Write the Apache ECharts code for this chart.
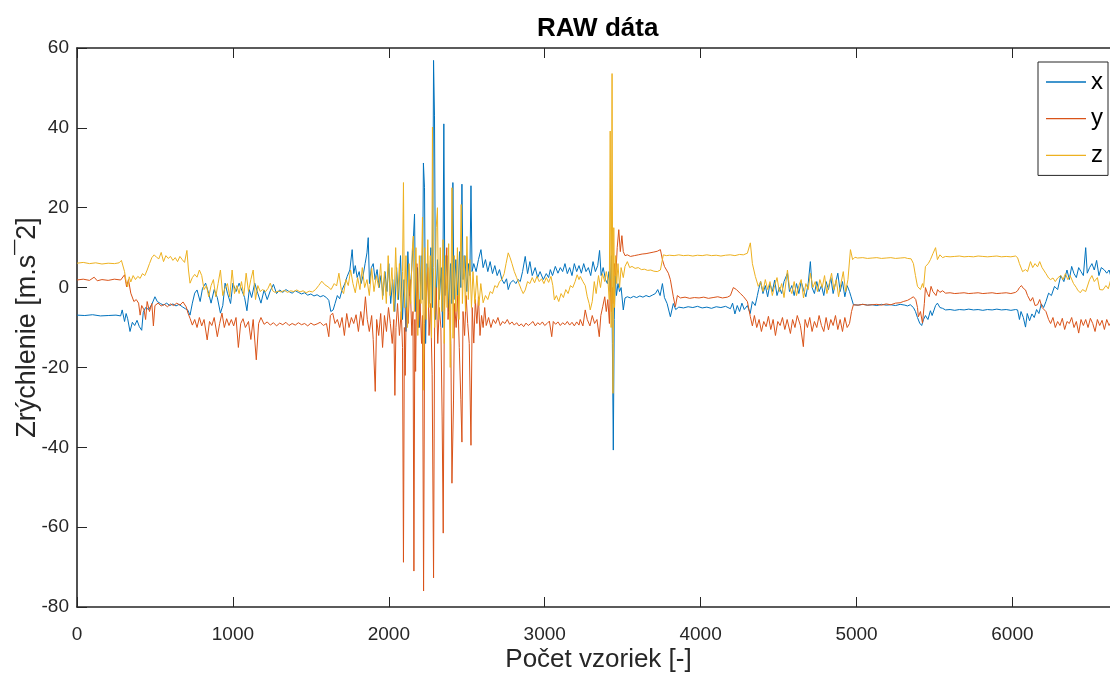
<!DOCTYPE html>
<html><head><meta charset="utf-8">
<script src="https://cdn.jsdelivr.net/npm/echarts@6/dist/echarts.min.js"></script>
<style>html,body{margin:0;padding:0;background:#fff}#c{width:1110px;height:675px}</style>
</head><body><div id="c"></div>
<script>
const TITLE = 'RAW dáta';
const X_NAME = 'Počet vzoriek [-]';
const Y_NAME = 'Zrýchlenie [m.s¯2]';
const SERIES_NAMES = ['x', 'y', 'z'];
const SERIES_COLORS = ['#0072BD', '#D95319', '#EDB120'];
const X_MIN = 0, X_MAX = 6690, X_STEP = 1000;
const Y_MIN = -80, Y_MAX = 60, Y_STEP = 20;

// [sample index, acceleration]
const accX = [[0,-6.9],[50,-7.0],[100,-6.8],[150,-7.1],[200,-7.0],[250,-6.9],[280,-7.1],[290,-5.6],[305,-8.5],[315,-6.5],[325,-7.8],[340,-11],[355,-8.7],[370,-9.5],[385,-8.2],[400,-9.8],[415,-10.7],[425,-6.2],[440,-5],[460,-5.5],[480,-4.2],[500,-2.3],[515,-3.5],[535,-4],[555,-4.4],[575,-3.9],[595,-4.5],[615,-4.1],[635,-4.6],[655,-4.2],[675,-4.8],[695,-5.3],[710,-5.6],[725,-6.9],[740,-3.9],[755,-1.4],[770,-0.6],[790,-3.5],[805,-0.2],[825,1.1],[845,-1.5],[860,-3.9],[880,-0.5],[900,-2.5],[920,-6.4],[935,-4.5],[950,1.1],[965,-1.4],[985,-4],[1000,1.1],[1020,-1],[1040,1.1],[1060,-1],[1075,-2.5],[1090,-5.8],[1105,-0.5],[1120,-2.5],[1140,1.1],[1160,-1.5],[1180,-3.9],[1200,-0.6],[1220,-3],[1240,-0.8],[1260,0.8],[1280,-1.5],[1300,-0.6],[1320,-1.2],[1340,-0.5],[1360,-1],[1380,-1.4],[1400,-0.8],[1420,-1.2],[1440,-1.6],[1460,-1.3],[1480,-1.9],[1500,-1.6],[1520,-2.1],[1540,-1.8],[1560,-2.3],[1580,-2],[1600,-2.5],[1615,-3.2],[1628,-6],[1643,-5.6],[1655,-4],[1670,-2],[1685,-2.8],[1700,-0.6],[1718,1],[1733,2.8],[1750,4.4],[1765,9.5],[1775,3.5],[1785,5.5],[1797,2.5],[1810,4],[1822,1],[1835,3],[1848,6],[1860,8.7],[1868,12.5],[1876,1],[1888,5],[1900,6],[1912,2],[1925,4.5],[1938,0],[1950,3],[1962,-2],[1975,4],[1988,-1],[2000,6],[2012,-4],[2025,2],[2038,-6],[2050,5],[2062,-3],[2075,8],[2088,-8],[2098,2],[2110,-11],[2122,9],[2134,-2],[2146,4],[2158,12.7],[2165,18.4],[2172,-6],[2184,5],[2196,-10],[2208,8],[2216,-3],[2222,31.2],[2229,25],[2236,-14],[2246,6],[2258,-4],[2270,10],[2280,-5],[2287,56.9],[2293,43],[2300,-8],[2312,7],[2324,-3],[2336,5],[2345,-10],[2353,41],[2360,-2],[2372,8],[2384,-6],[2396,6],[2404,-4],[2411,26.3],[2418,-3],[2430,7],[2442,-2],[2454,9],[2462,0],[2469,25.9],[2476,2],[2488,8],[2500,-1],[2512,6],[2520,3],[2527,25.5],[2534,4],[2545,6],[2560,4],[2575,7],[2591,9.5],[2605,5],[2620,7],[2635,4],[2650,6.5],[2665,3.5],[2680,5.5],[2695,3],[2710,4.5],[2725,2],[2740,1],[2755,2.2],[2766,-0.5],[2780,1.2],[2798,1.8],[2815,1],[2830,2],[2843,1.5],[2858,4],[2875,7.8],[2890,3.5],[2905,6.5],[2920,3],[2939,5],[2955,2.5],[2970,4],[2991,2],[3010,3.5],[3025,2.5],[3036,4.5],[3050,3],[3068,5.3],[3085,3.6],[3100,5],[3115,4],[3130,6],[3145,3.5],[3160,5],[3175,3],[3190,6],[3205,4],[3220,5.5],[3235,3.6],[3250,6],[3265,4],[3280,5],[3295,3],[3310,6.5],[3325,4],[3340,5.5],[3352,9.3],[3362,3],[3375,5],[3390,2],[3402,1],[3412,4],[3420,-1],[3428,8],[3434,-14],[3440,-40.7],[3446,-8],[3452,3],[3460,-2],[3470,1],[3480,-1],[3490,0],[3504,-5.6],[3515,-2.6],[3530,-2.3],[3550,-2.6],[3570,-2.2],[3590,-2.5],[3610,-2.1],[3630,-2.4],[3650,-2],[3670,-2.3],[3690,-1.9],[3710,-1.5],[3725,-0.5],[3740,-2],[3755,1],[3768,-2.5],[3785,-4],[3806,-7.3],[3825,-4],[3840,-5.5],[3860,-4.9],[3890,-5.1],[3920,-4.8],[3950,-5],[3980,-4.7],[4010,-5.1],[4040,-4.9],[4070,-5.2],[4100,-4.8],[4130,-5],[4160,-4.7],[4191,-5.3],[4205,-3.9],[4220,-6.6],[4235,-4.5],[4250,-6],[4265,-3.9],[4280,-5.5],[4300,-4.5],[4318,-6.5],[4332,-3.5],[4350,-4.5],[4364,-2],[4372,-0.5],[4385,1.5],[4400,-1.5],[4415,0.5],[4430,-2.3],[4445,1],[4460,-1],[4475,1.9],[4490,-2],[4505,0],[4520,-1.5],[4535,1.5],[4557,3.6],[4570,-1],[4585,0.5],[4600,-2],[4615,1],[4630,-1.5],[4645,1.5],[4660,-0.5],[4675,-2.3],[4690,1],[4704,6.5],[4715,0],[4730,-1.5],[4745,1.5],[4760,-1],[4775,0.5],[4790,-2],[4805,1.5],[4820,-0.5],[4835,2.5],[4850,-1.5],[4865,1],[4880,3.6],[4895,-1],[4910,1.5],[4925,-2.3],[4940,0.5],[4955,-1],[4965,-2.3],[4980,-4.3],[5010,-4.4],[5040,-4.2],[5070,-4.4],[5100,-4.3],[5130,-4.5],[5160,-4.2],[5190,-4.4],[5220,-4.3],[5250,-4.5],[5280,-4.2],[5310,-4.4],[5327,-4.6],[5345,-4.3],[5365,-5],[5378,-6],[5391,-7.5],[5405,-8.9],[5418,-9.5],[5430,-8],[5442,-7],[5458,-8],[5474,-5.8],[5485,-7],[5494,-6.5],[5507,-4.5],[5519,-3.9],[5535,-5],[5552,-5.2],[5571,-5.6],[5600,-5.5],[5630,-5.7],[5660,-5.5],[5690,-5.6],[5720,-5.4],[5750,-5.6],[5780,-5.5],[5810,-5.7],[5840,-5.5],[5870,-5.6],[5900,-5.4],[5930,-5.6],[5960,-5.5],[5990,-5.7],[6020,-5.5],[6033,-5.6],[6045,-8],[6055,-6],[6070,-7.5],[6084,-9.9],[6095,-6.5],[6110,-8.3],[6125,-6.6],[6140,-7.5],[6155,-5.5],[6170,-6.5],[6185,-4.1],[6200,-5],[6215,-3.5],[6232,-1.4],[6250,-2],[6270,0.3],[6290,-0.5],[6310,3],[6330,1.5],[6350,4.4],[6365,2],[6380,5.3],[6395,3.5],[6410,2.5],[6425,5],[6440,4],[6455,3],[6470,10],[6480,3.6],[6495,5],[6510,6],[6525,4.4],[6540,6.8],[6555,3],[6570,5],[6590,4.4],[6605,3.6],[6620,4.4],[6630,3],[6660,5],[6690,4]];

const accY = [[0,1.9],[40,2.1],[80,1.8],[110,2.6],[130,1.7],[160,2.0],[200,1.8],[240,2.1],[280,1.9],[290,2.3],[305,3.2],[318,0.2],[330,2.0],[345,-1.4],[365,-3.5],[380,-3],[395,-3.9],[405,-6.9],[415,-4.5],[430,-5.6],[440,-8],[450,-3.5],[465,-6],[480,-4],[490,-9.6],[500,-4.5],[520,-3.9],[540,-4.6],[560,-4.2],[580,-4.8],[600,-4.1],[620,-4.5],[640,-3.9],[660,-4.4],[680,-3.6],[700,-4.8],[712,-6.4],[725,-7.7],[740,-9.4],[755,-8],[770,-10],[785,-7.5],[800,-9.6],[815,-8],[835,-13.1],[850,-8.5],[865,-9.5],[880,-7.5],[900,-12.3],[915,-9],[930,-6.4],[945,-10],[960,-7.8],[975,-9.5],[990,-8],[1005,-9.6],[1020,-7.5],[1035,-15],[1050,-9],[1065,-7.8],[1080,-10],[1100,-8.5],[1115,-13],[1130,-8],[1150,-18.1],[1165,-9],[1180,-7.5],[1200,-9.2],[1220,-8.6],[1240,-9.4],[1260,-8.8],[1280,-9.6],[1300,-8.9],[1320,-9.3],[1340,-8.7],[1360,-9.5],[1380,-9],[1400,-9.4],[1420,-8.8],[1440,-9.3],[1460,-9.0],[1480,-9.6],[1500,-8.9],[1520,-9.4],[1540,-9.1],[1560,-8.7],[1580,-9.5],[1600,-9],[1615,-12.3],[1625,-7],[1640,-6.4],[1655,-9],[1670,-8],[1685,-10],[1700,-7.5],[1715,-12],[1730,-6.5],[1745,-10],[1760,-7.5],[1775,-9],[1790,-6.8],[1805,-11],[1820,-6],[1835,-9.5],[1850,-2.3],[1862,-8],[1875,-11],[1890,-7],[1900,-13],[1913,-26],[1922,-8],[1935,-12],[1948,-6.5],[1960,-15],[1972,-7],[1985,-11],[1998,-5],[2010,-9],[2022,-14],[2032,-8],[2039,-27],[2046,-10],[2056,-4],[2068,-12],[2080,-6],[2088,-15],[2094,-68.8],[2100,-10],[2105,-22],[2112,-5],[2124,-9],[2136,2],[2148,-12],[2155,-6],[2161,-71],[2167,-8],[2172,-21],[2180,6],[2190,-10],[2200,-3],[2210,-14],[2216,-7],[2223,-76],[2230,-9],[2240,-2],[2250,5],[2258,-12],[2268,-4],[2278,-21.7],[2287,-72.7],[2294,-8],[2304,0],[2314,-14],[2324,-5],[2334,-10],[2342,-32.4],[2349,-61.5],[2356,-6],[2364,4],[2372,10],[2380,-8],[2390,-3],[2398,-14],[2405,-49],[2415,-28.4],[2422,-4],[2432,-10],[2442,-2],[2452,-15],[2462,-28],[2469,-38.7],[2476,-6],[2486,-12],[2496,-2],[2506,-9],[2516,-14],[2527,-39.5],[2535,-5],[2545,-13.9],[2555,-3],[2565,-9],[2575,-2.3],[2585,-12],[2595,-7],[2605,-10],[2615,-5],[2625,-9.5],[2640,-7.5],[2655,-10],[2670,-8],[2685,-9],[2700,-7.5],[2715,-9.5],[2730,-8.5],[2745,-9],[2760,-8],[2775,-9.2],[2790,-8.6],[2805,-9.4],[2820,-8.8],[2835,-9.6],[2850,-9.1],[2865,-9.8],[2880,-8.9],[2895,-9.5],[2910,-9],[2925,-8.5],[2940,-9.6],[2955,-8.8],[2970,-9.3],[2985,-8.6],[3000,-9.5],[3015,-9],[3030,-8.4],[3045,-12.3],[3055,-8.5],[3070,-9.2],[3085,-8.6],[3100,-9.5],[3115,-8.8],[3130,-9.3],[3145,-8.5],[3160,-9.4],[3175,-8.7],[3190,-9.6],[3205,-8.6],[3220,-9.4],[3228,-8],[3245,-9.6],[3260,-5.6],[3273,-8],[3290,-9.6],[3305,-7],[3320,-9],[3335,-8],[3350,-12.3],[3360,-7],[3372,-4.8],[3385,-2.3],[3395,-6],[3405,-3],[3415,-9],[3422,2],[3428,-6],[3434,0],[3440,-4],[3448,6],[3456,3],[3465,10],[3475,14.5],[3485,9],[3495,13],[3504,9],[3515,8],[3530,8.2],[3550,7.8],[3575,8],[3600,8.2],[3625,8.4],[3650,8.5],[3675,8.7],[3700,8.9],[3722,9.1],[3742,9.5],[3755,7],[3768,5.3],[3793,3.6],[3806,2],[3825,-2.3],[3838,-4.8],[3851,-2],[3870,-2.6],[3900,-2.4],[3930,-2.7],[3960,-2.5],[3990,-2.6],[4020,-2.4],[4050,-2.7],[4080,-2.5],[4110,-2.3],[4140,-2.6],[4172,-2.4],[4191,-2],[4210,0],[4230,-0.5],[4255,-1.5],[4274,-2.2],[4300,-3.5],[4319,-7.3],[4332,-9.6],[4345,-7],[4360,-10],[4375,-8],[4390,-11],[4405,-8.5],[4420,-9.8],[4435,-7.2],[4450,-10.5],[4465,-8],[4480,-12],[4495,-8.5],[4510,-9.5],[4525,-7.5],[4540,-10.5],[4555,-8],[4576,-11.5],[4590,-8],[4605,-10],[4620,-7],[4640,-9.5],[4659,-14.8],[4670,-8],[4685,-10],[4700,-7.5],[4715,-11],[4730,-8.5],[4745,-10],[4760,-7],[4775,-9.5],[4790,-11],[4805,-7.5],[4820,-10.6],[4835,-8],[4850,-9.5],[4865,-7],[4880,-10.5],[4895,-8],[4910,-11],[4925,-7.5],[4940,-10],[4955,-9],[4968,-6],[4980,-4.3],[5010,-4.4],[5040,-4.2],[5070,-4.4],[5100,-4.3],[5130,-4.2],[5160,-4.4],[5190,-4.1],[5220,-4.3],[5250,-3.9],[5280,-3.8],[5300,-3.5],[5327,-3.2],[5345,-2.8],[5365,-2.3],[5380,-3],[5391,-5],[5397,-7.3],[5410,-6],[5423,-8.9],[5435,-4],[5442,0],[5455,-1.5],[5466,-2.3],[5478,0.3],[5490,-1],[5500,-0.6],[5510,-2],[5520,-0.5],[5535,-1.2],[5552,-0.8],[5571,-1.4],[5600,-1.3],[5630,-1.5],[5660,-1.4],[5690,-1.3],[5720,-1.5],[5750,-1.4],[5780,-1.3],[5810,-1.5],[5840,-1.4],[5870,-1.3],[5900,-1.5],[5930,-1.4],[5960,-1.3],[5990,-1.5],[6020,-1.2],[6033,-0.8],[6045,0],[6058,0.5],[6070,-0.2],[6084,-0.6],[6097,-2],[6116,-3.4],[6130,-2.5],[6145,-4.5],[6161,-4.3],[6175,-3],[6190,-5],[6200,-4.6],[6215,-6],[6225,-5.5],[6232,-8],[6245,-9],[6260,-7.5],[6275,-10],[6290,-8.5],[6305,-9.5],[6320,-7.7],[6335,-10.5],[6350,-8.5],[6365,-9],[6380,-7.5],[6395,-10],[6410,-8.5],[6425,-11.4],[6440,-8],[6455,-9.5],[6470,-8],[6485,-10],[6500,-7.7],[6515,-9],[6530,-11],[6545,-8],[6560,-9.5],[6575,-8.2],[6590,-10.5],[6605,-8],[6620,-9.5],[6630,-8.8],[6660,-9.5],[6690,-8.5]];

const accZ = [[0,6.1],[40,6.3],[80,6.0],[120,6.2],[160,5.9],[200,6.1],[240,6.0],[270,6.2],[285,6.8],[295,7],[305,4],[315,1.5],[325,0.2],[335,2.7],[345,1.4],[360,3],[375,2],[390,2.8],[405,2.3],[420,3.5],[435,3],[450,4.4],[465,6],[480,7.5],[495,8.2],[510,7.6],[525,7.2],[540,8.8],[555,6.5],[570,8],[585,7.3],[600,7.8],[615,6.8],[630,7.5],[645,6.5],[660,7.8],[675,7],[690,6.3],[705,9.3],[715,4.4],[725,1.1],[740,2.5],[755,3.3],[770,2.6],[785,4.4],[800,3],[815,-0.5],[830,0.5],[845,-2.3],[860,0.5],[875,2],[890,-2.3],[905,1],[920,4.4],[935,-2],[950,0],[965,1],[980,-2.3],[995,4.4],[1010,-1.5],[1025,0.5],[1040,-1.5],[1055,1.5],[1070,-2],[1085,3.6],[1100,-1],[1115,2],[1130,4.4],[1145,-3],[1160,0.5],[1175,-1],[1190,-0.5],[1210,-1],[1225,-0.2],[1240,1.1],[1255,-0.8],[1270,-1.2],[1290,-0.9],[1310,-1.1],[1330,-0.7],[1350,-1.2],[1370,-0.8],[1390,-1],[1410,-0.6],[1430,-1.1],[1450,-0.8],[1470,-1.3],[1490,-0.9],[1510,-1.1],[1530,-0.5],[1550,0.5],[1570,1.6],[1590,0.7],[1610,0.2],[1630,-0.5],[1650,1],[1665,0.4],[1680,3.6],[1695,-0.5],[1710,-1.5],[1725,2],[1740,0.5],[1755,4.4],[1770,1],[1785,-1.3],[1800,2.5],[1815,-0.5],[1830,5],[1845,0],[1860,2],[1875,-2],[1890,4.8],[1905,-1],[1920,3],[1935,0],[1948,6],[1960,-3],[1972,4],[1984,-4],[1996,8],[2008,-2],[2020,5],[2032,-6],[2044,10],[2056,-3],[2068,6],[2080,-8],[2088,4],[2094,26.3],[2100,-5],[2110,8],[2120,-10],[2130,6],[2140,-4],[2150,9],[2157,12.9],[2164,-6],[2174,10],[2186,-12],[2196,8],[2206,-4],[2216,17.6],[2223,-25.7],[2230,10],[2240,-8],[2250,12],[2258,-5],[2266,8],[2274,-12.6],[2280,40.2],[2286,5],[2294,-10],[2304,15],[2312,20],[2320,-8],[2330,10],[2340,-6],[2348,12],[2356,-14],[2364,8],[2374,-5],[2384,11],[2394,-20],[2405,25],[2412,-12.7],[2420,8],[2430,-6],[2440,10],[2450,-8],[2458,6],[2464,20.8],[2472,-4],[2482,8],[2492,-6],[2501,12.8],[2510,-3],[2520,7],[2530,-5],[2540,4],[2552,-4],[2565,3],[2578,-4.5],[2590,1],[2605,-3.8],[2620,-2],[2635,-3],[2650,-1],[2665,-1.5],[2680,0.5],[2695,0],[2710,1.5],[2725,2],[2740,3.5],[2752,6],[2766,8.7],[2778,7.5],[2790,6],[2805,4],[2820,2.5],[2835,1],[2850,-0.5],[2862,-1.5],[2875,-0.6],[2890,1.5],[2905,1],[2920,2.5],[2935,1.2],[2950,2.8],[2965,1.5],[2980,2.2],[2995,1],[3010,2.5],[3025,1.3],[3040,2.8],[3052,0.5],[3062,-3.1],[3075,-2],[3090,-3.5],[3105,-1.5],[3120,-2.5],[3135,-0.5],[3150,-1.5],[3165,0.5],[3180,0],[3195,1.5],[3208,3.2],[3220,2],[3228,2.8],[3245,1.5],[3260,0.5],[3273,-2.3],[3285,-4],[3292,-5.6],[3305,-3.5],[3318,1.5],[3330,-1.5],[3345,3],[3358,0],[3370,3.5],[3385,1.5],[3395,4],[3405,2],[3414,-3],[3420,39.2],[3426,-10],[3432,53.6],[3438,-26.5],[3443,15],[3448,-5],[3455,8],[3462,1],[3470,6],[3480,0],[3490,5],[3504,2.5],[3515,5.3],[3530,6.5],[3545,5],[3560,5.3],[3580,4.8],[3600,5],[3620,4.5],[3640,4.6],[3660,4.3],[3680,4.4],[3700,4.1],[3722,4],[3742,4.4],[3755,7],[3761,8.2],[3780,8],[3800,8.1],[3830,8],[3860,8.2],[3890,8],[3920,8.1],[3950,7.9],[3980,8.1],[4010,8],[4040,8.2],[4070,8],[4100,8.1],[4130,7.9],[4160,8.1],[4190,8.2],[4220,8],[4250,8.3],[4274,8.2],[4300,8.6],[4319,11.2],[4332,6],[4351,2.8],[4370,0.3],[4385,1.5],[4400,-1],[4415,2],[4430,-0.5],[4445,1.5],[4460,-2],[4475,0.5],[4490,2.5],[4505,-1],[4520,1],[4535,-2.5],[4557,4.4],[4570,0],[4585,-1.5],[4600,1.5],[4615,-2],[4630,0.5],[4645,2],[4660,-2.6],[4675,1],[4690,-0.5],[4704,3.6],[4720,0],[4735,1.5],[4750,-1],[4765,2],[4780,0],[4795,3],[4810,-1.5],[4825,1],[4840,3.6],[4855,-0.5],[4870,2],[4885,-2.3],[4900,1],[4915,4],[4930,-1],[4945,2],[4961,9.5],[4975,7],[4990,7.6],[5006,7.4],[5040,7.5],[5070,7.3],[5100,7.4],[5130,7.5],[5160,7.3],[5190,7.4],[5220,7.5],[5250,7.3],[5280,7.4],[5310,7.5],[5327,7.3],[5350,7.2],[5365,6],[5378,3],[5391,0.3],[5410,-0.5],[5423,1],[5430,0],[5442,5.3],[5460,6],[5474,7],[5490,8.5],[5507,10],[5519,7],[5535,8.2],[5552,7.5],[5571,7.8],[5600,7.7],[5630,7.8],[5660,7.9],[5690,7.7],[5720,7.8],[5750,7.7],[5780,7.9],[5810,7.8],[5840,7.7],[5870,7.8],[5900,7.9],[5930,7.7],[5960,7.8],[5990,7.7],[6020,7.9],[6033,7.5],[6045,6],[6065,4],[6084,4.5],[6097,4],[6116,6.5],[6130,5],[6145,6],[6161,5.2],[6175,6.5],[6190,5],[6200,5.5],[6215,3.5],[6232,2.4],[6245,2],[6260,2.4],[6275,1.5],[6290,2.4],[6309,3],[6325,2],[6340,3.5],[6355,2],[6370,3],[6392,1],[6410,0],[6418,-0.6],[6435,-1.3],[6450,-0.5],[6470,-1],[6482,-0.8],[6495,2],[6510,3],[6525,1.5],[6545,2.5],[6560,-0.5],[6580,-0.6],[6600,0.5],[6615,-0.3],[6630,1.9],[6660,0.5],[6690,1.5]];

const SERIES_DATA = [accX, accY, accZ];
const FONT = '"Liberation Sans", Arial, Helvetica, sans-serif';
const AX = '#262626';

const chart = echarts.init(document.getElementById('c'), null, {renderer: 'canvas'});
const tickFmt = v => (v % X_STEP === 0 ? String(v) : '');
const baseX = {
  type: 'value', min: X_MIN, max: X_MAX, interval: X_STEP,
  axisLine: {show: true, onZero: false, lineStyle: {color: AX, width: 1.6}},
  axisTick: {show: true, inside: true, length: 10, lineStyle: {color: AX, width: 1}},
  splitLine: {show: false}
};
const baseY = {
  type: 'value', min: Y_MIN, max: Y_MAX, interval: Y_STEP,
  axisLine: {show: true, onZero: false, lineStyle: {color: AX, width: 1.6}},
  axisTick: {show: true, inside: true, length: 10, lineStyle: {color: AX, width: 1}},
  splitLine: {show: false}
};
chart.setOption({
  animation: false,
  backgroundColor: '#fff',
  title: {
    text: TITLE, left: 537, top: 16, padding: 0,
    textStyle: {fontFamily: FONT, fontSize: 26, fontWeight: 'bold', color: '#000'}
  },
  legend: {
    data: SERIES_NAMES.map(n => ({name: n, icon: 'rect'})),
    orient: 'vertical', left: 1038, top: 62,
    itemWidth: 40, itemHeight: 1.3, itemGap: 12.7, padding: [8, 5, 8, 8],
    backgroundColor: '#fff', borderColor: AX, borderWidth: 1, borderRadius: 0,
    textStyle: {fontFamily: FONT, fontSize: 24, color: '#000', lineHeight: 24}
  },
  grid: {left: 77, top: 48, right: -10, bottom: 68, containLabel: false, outerBoundsMode: 'none'},
  xAxis: [
    Object.assign({}, baseX, {
      position: 'bottom',
      name: X_NAME, nameLocation: 'middle', nameGap: 40, nameMoveOverlap: false,
      nameTextStyle: {fontFamily: FONT, fontSize: 26, color: AX},
      axisLabel: {show: true, margin: 18, formatter: tickFmt, fontFamily: FONT, fontSize: 19, color: AX, showMaxLabel: false}
    }),
    Object.assign({}, baseX, {position: 'top', axisLabel: {show: false}})
  ],
  yAxis: [
    Object.assign({}, baseY, {
      position: 'left',
      name: Y_NAME, nameLocation: 'middle', nameGap: 36, nameRotate: 90, nameMoveOverlap: false,
      nameTextStyle: {fontFamily: FONT, fontSize: 27, color: AX},
      axisLabel: {show: true, margin: 8, fontFamily: FONT, fontSize: 19, color: AX}
    }),
    Object.assign({}, baseY, {position: 'right', axisLabel: {show: false}})
  ],
  series: SERIES_NAMES.map((n, i) => ({
    name: n, type: 'line', xAxisIndex: 0, yAxisIndex: 0,
    data: SERIES_DATA[i], showSymbol: false, symbol: 'none', sampling: false,
    lineStyle: {color: SERIES_COLORS[i], width: 1}, itemStyle: {color: SERIES_COLORS[i]},
    clip: true
  }))
});
</script>
</body></html>
